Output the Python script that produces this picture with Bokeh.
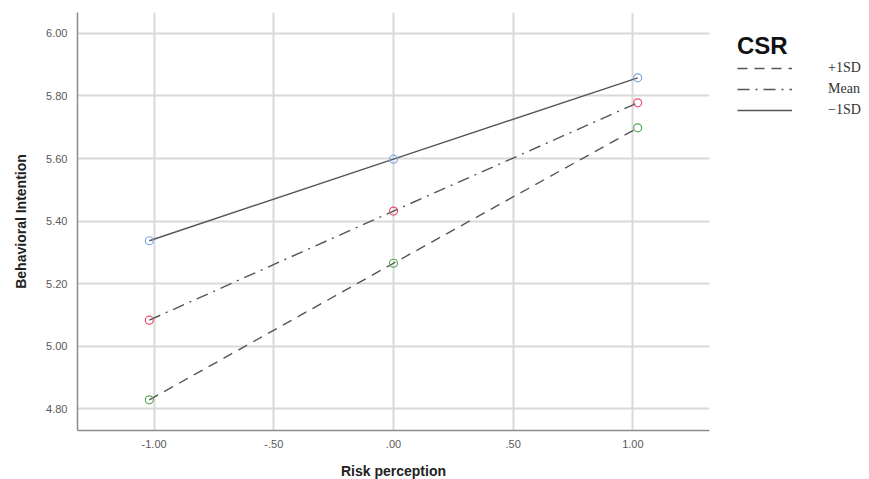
from bokeh.plotting import figure
from bokeh.models import FixedTicker, Range1d, Legend, LegendItem
from bokeh.embed import file_html
from bokeh.resources import INLINE

# Data
x_vals = [-1.02, 0.0, 1.02]
minus1sd = [5.337, 5.598, 5.858]
mean_vals = [5.083, 5.432, 5.778]
plus1sd = [4.828, 5.265, 5.698]
x_ticks = [-1.0, -0.5, 0.0, 0.5, 1.0]
x_tick_labels = ["-1.00", "-.50", ".00", ".50", "1.00"]
y_ticks = [4.8, 5.0, 5.2, 5.4, 5.6, 5.8, 6.0]
y_tick_labels = ["4.80", "5.00", "5.20", "5.40", "5.60", "5.80", "6.00"]
series_names = ["+1SD", "Mean", "\u22121SD"]

p = figure(frame_width=632, frame_height=418, output_backend="svg", toolbar_location=None,
           x_range=Range1d(-1.32, 1.32), y_range=Range1d(4.73, 6.067),
           min_border_left=77, min_border_top=12, min_border_bottom=41,
           min_border_right=152)
p.outline_line_color = None
p.background_fill_color = "white"

for ax in (p.xaxis[0], p.yaxis[0]):
    ax.major_tick_line_color = None
    ax.minor_tick_line_color = None
    ax.axis_line_color = "#8c8c8c"
    ax.axis_line_width = 1.5
    ax.major_label_text_font = "Liberation Sans"
    ax.major_label_text_font_size = "11px"
    ax.major_label_text_color = "#595959"
    ax.axis_label_text_font = "Liberation Sans"
    ax.axis_label_text_font_style = "bold"
    ax.axis_label_text_font_size = "14px"
    ax.axis_label_text_color = "#222222"

p.xaxis.ticker = FixedTicker(ticks=x_ticks)
p.xaxis.major_label_overrides = dict(zip(x_ticks, x_tick_labels))
p.yaxis.ticker = FixedTicker(ticks=y_ticks)
p.yaxis.major_label_overrides = dict(zip(y_ticks, y_tick_labels))
p.xaxis.axis_label = "Risk perception"
p.yaxis.axis_label = "Behavioral Intention"
p.xaxis.major_label_standoff = 3
p.yaxis.major_label_standoff = 4
p.xaxis.axis_label_standoff = 12
p.yaxis.axis_label_standoff = 14

p.xgrid.grid_line_color = "#d9d9d9"
p.ygrid.grid_line_color = "#d9d9d9"
p.xgrid.grid_line_width = 2
p.ygrid.grid_line_width = 2

line_color = "#555555"
r_plus = p.line(x_vals, plus1sd, line_color=line_color, line_width=1.4, line_dash="10 7")
r_mean = p.line(x_vals, mean_vals, line_color=line_color, line_width=1.4, line_dash="12 6 2 6")
r_minus = p.line(x_vals, minus1sd, line_color=line_color, line_width=1.4)

p.scatter(x_vals, minus1sd, size=8, fill_color=None, line_color="#7fa8e8", line_width=1.2)
p.scatter(x_vals, mean_vals, size=8, fill_color=None, line_color="#e8506e", line_width=1.2)
p.scatter(x_vals, plus1sd, size=8, fill_color=None, line_color="#5aa85a", line_width=1.2)

legend = Legend(items=[LegendItem(label=series_names[0], renderers=[r_plus]),
                       LegendItem(label=series_names[1], renderers=[r_mean]),
                       LegendItem(label=series_names[2], renderers=[r_minus])],
                location=(28, 312))
legend.title = "CSR"
legend.title_text_font = "Liberation Sans"
legend.title_text_font_style = "bold"
legend.title_text_font_size = "24px"
legend.title_text_color = "#111111"
legend.title_standoff = 0
legend.label_text_font = "Liberation Serif"
legend.label_text_font_size = "14px"
legend.label_text_color = "#333333"
legend.glyph_width = 55
legend.glyph_height = 16
legend.label_height = 16
legend.label_standoff = 36
legend.spacing = 5
legend.margin = 0
legend.padding = 0
legend.border_line_color = None
legend.background_fill_alpha = 0
p.add_layout(legend, "right")

open("out.html", "w").write(file_html(p, INLINE))
